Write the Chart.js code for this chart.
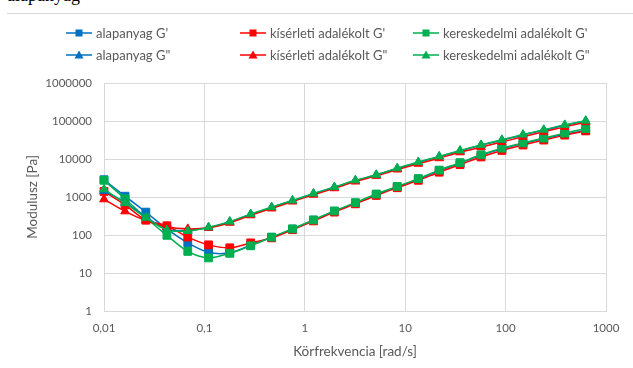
<!DOCTYPE html>
<html>
<head>
<meta charset="utf-8">
<script src="https://cdn.jsdelivr.net/npm/chart.js@4.4.0/dist/chart.umd.min.js"></script>
<style>
  body { margin: 0; background: #fff; }
  #wrap { position: relative; width: 633px; height: 368px; overflow: hidden; font-family: Lato, sans-serif; }
  #doc { position: absolute; left: 7px; top: -14px; font: 18px/18px "Liberation Serif", serif; color: #000; }
  #rule { position: absolute; left: 7px; right: 0; top: 13px; border-top: 1px solid #d9d9d9; }
  .leg { position: absolute; height: 16px; display: flex; align-items: center; font-size: 13px; color: #595959; white-space: nowrap; }
  .leg svg { margin-right: 4px; }
  canvas { position: absolute; left: 0; top: 0; }
</style>
</head>
<body>
<div id="wrap">
  <div id="doc">alapanyag</div>
  <div id="rule"></div>
  <canvas id="chart" width="633" height="368"></canvas>
</div>
<script>
// frequency points [rad/s]
const freq = [0.01, 0.0162, 0.0261, 0.0423, 0.0683, 0.110, 0.179, 0.289, 0.467, 0.754,
  1.22, 1.97, 3.19, 5.15, 8.33, 13.5, 21.8, 35.2, 56.9, 91.9, 149, 240, 388, 628];

// G' (storage modulus) [Pa]
const alapanyagG1 = [2850, 1050, 400, 145, 62, 35, 34, 54, 87, 143, 245, 420, 690, 1170, 1850, 2950, 4950, 7800, 12500, 18500, 25500, 34000, 45000, 56000];
const kiserletiG1 = [1400, 620, 245, 175, 88, 55, 46, 62, 84, 138, 235, 400, 660, 1100, 1750, 2750, 4500, 7100, 11300, 16800, 23300, 31500, 42500, 55000];
const kereskedelmiG1 = [2750, 900, 285, 98, 37, 25, 33, 52, 88, 145, 250, 430, 710, 1200, 1900, 3050, 5100, 8000, 12900, 19300, 26500, 35500, 48000, 63000];

// G" (loss modulus) [Pa]
const alapanyagG2 = [1450, 720, 300, 140, 135, 155, 222, 350, 530, 800, 1220, 1800, 2700, 3800, 5600, 8100, 11500, 16300, 23000, 31000, 43000, 57000, 77000, 100000];
const kiserletiG2 = [870, 420, 240, 165, 145, 155, 210, 330, 500, 760, 1150, 1700, 2550, 3600, 5300, 7500, 10500, 15000, 20500, 28000, 38500, 52000, 70000, 93000];
const kereskedelmiG2 = [1600, 690, 285, 135, 128, 160, 225, 355, 540, 810, 1230, 1820, 2750, 3850, 5700, 8300, 11700, 16700, 23500, 32000, 44000, 59000, 79000, 102000];

const seriesNames = ["alapanyag G'", "kísérleti adalékolt G'", "kereskedelmi adalékolt G'",
  'alapanyag G"', 'kísérleti adalékolt G"', 'kereskedelmi adalékolt G"'];

// axis ticks
const xTicks = [0.01, 0.1, 1, 10, 100, 1000];
const xTickLabels = ['0,01', '0,1', '1', '10', '100', '1000'];
const yTicks = [1, 10, 100, 1000, 10000, 100000, 1000000];
const yTickLabels = ['1', '10', '100', '1000', '10000', '100000', '1000000'];

const BLUE = '#0070C0', RED = '#FF0000', GREEN = '#00B050';
const TXT = '#595959', GRID = '#d9d9d9';

const seriesData = [alapanyagG1, kiserletiG1, kereskedelmiG1, alapanyagG2, kiserletiG2, kereskedelmiG2];
const seriesColors = [BLUE, RED, GREEN, BLUE, RED, GREEN];
const seriesMarkers = ['rect', 'rect', 'rect', 'triangle', 'triangle', 'triangle'];

const datasets = seriesData.map((arr, i) => ({
  label: seriesNames[i],
  data: freq.map((f, j) => ({ x: f, y: arr[j] })),
  borderColor: seriesColors[i],
  backgroundColor: seriesColors[i],
  borderWidth: 1.5,
  pointStyle: seriesMarkers[i],
  pointRadius: seriesMarkers[i] === 'rect' ? 5.5 : 5,
  pointBorderWidth: 1,
  tension: 0.3,
  clip: false,
  order: 6 - i   // later series on top, like Excel
}));

// legend (3 columns x 2 rows)
const legCols = [66, 240, 413];
const legRows = [33, 55];
const wrap = document.getElementById('wrap');
seriesNames.forEach((name, i) => {
  const d = document.createElement('div');
  d.className = 'leg';
  d.style.left = legCols[i % 3] + 'px';
  d.style.top = (legRows[Math.floor(i / 3)] - 8) + 'px';
  const c = seriesColors[i];
  const mark = seriesMarkers[i] === 'rect'
    ? `<rect x="9.5" y="2.5" width="7" height="7" fill="${c}"/>`
    : `<polygon points="13,1.5 17.5,9.5 8.5,9.5" fill="${c}"/>`;
  d.innerHTML = `<svg width="26" height="12"><line x1="0" y1="6" x2="26" y2="6" stroke="${c}" stroke-width="1.5"/>${mark}</svg><span>${name}</span>`;
  wrap.appendChild(d);
});

new Chart(document.getElementById('chart'), {
  type: 'line',
  data: { datasets },
  options: {
    responsive: false,
    animation: false,
    layout: { padding: { left: 0, top: 83, right: 27, bottom: 0 } },
    plugins: { legend: { display: false }, tooltip: { enabled: false } },
    scales: {
      x: {
        type: 'logarithmic',
        min: 0.01,
        max: 1000,
        afterBuildTicks: s => { s.ticks = xTicks.map(v => ({ value: v })); },
        afterFit: s => { s.height = 57; },
        ticks: {
          callback: (v, i) => xTickLabels[i],
          color: TXT,
          font: { family: 'Lato', size: 11.5 },
          padding: 10,
          maxRotation: 0,
          autoSkip: false
        },
        grid: { color: GRID, drawTicks: false },
        border: { color: GRID },
        title: {
          display: true,
          text: 'Körfrekvencia [rad/s]',
          color: TXT,
          font: { family: 'Lato', size: 13.5 },
          padding: { top: 0, bottom: 8 }
        }
      },
      y: {
        type: 'logarithmic',
        min: 1,
        max: 1000000,
        afterBuildTicks: s => { s.ticks = yTicks.map(v => ({ value: v })); },
        afterFit: s => { s.width = 104; },
        ticks: {
          callback: (v, i) => yTickLabels[i],
          color: TXT,
          font: { family: 'Lato', size: 11.5 },
          padding: 12,
          autoSkip: false
        },
        grid: { color: GRID, drawTicks: false },
        border: { color: GRID },
        title: {
          display: true,
          text: 'Modulusz [Pa]',
          color: TXT,
          font: { family: 'Lato', size: 13.5 },
          padding: { top: 25, bottom: 0 }
        }
      }
    }
  }
});
</script>
</body>
</html>
